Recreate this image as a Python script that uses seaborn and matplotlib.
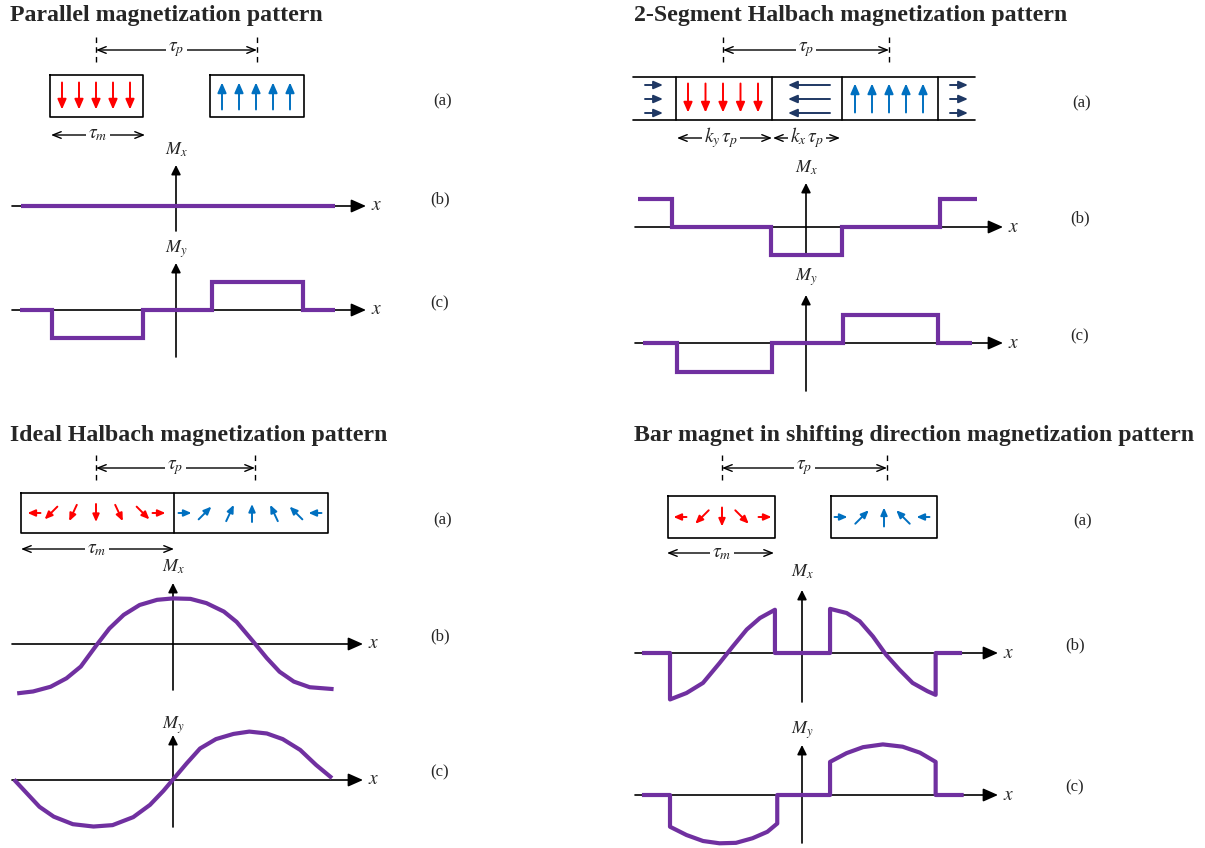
import numpy as np
import pandas as pd
import matplotlib
matplotlib.use("Agg")
import matplotlib.pyplot as plt
import seaborn as sns

# waveform values, x in units of tau_p, y in normalised magnetisation
par_mx_x = [-0.96, 0.99]
par_mx_y = [0, 0]
par_my_x = [-0.97, -0.77, -0.77, -0.205, -0.205, 0.224, 0.224, 0.79, 0.79, 0.99]
par_my_y = [0, 0, -1, -1, 0, 0, 1, 1, 0, 0]

hal2_mx_x = [-1.01, -0.807, -0.807, -0.21, -0.21, 0.217, 0.217, 0.807, 0.807, 1.03]
hal2_mx_y = [1, 1, 0, 0, -1, -1, 0, 0, 1, 1]
hal2_my_x = [-0.98, -0.777, -0.777, -0.205, -0.205, 0.223, 0.223, 0.795, 0.795, 1.0]
hal2_my_y = [0, 0, -1.02, -1.02, 0, 0, 1, 1, 0, 0]

ideal_mx_x = [-0.98, -0.88, -0.77, -0.67, -0.58, -0.48, -0.40, -0.31, -0.21, -0.10, 0.0,
              0.11, 0.21, 0.32, 0.40, 0.505, 0.59, 0.67, 0.76, 0.86, 1.01]
ideal_mx_y = [-1.05, -1.01, -0.91, -0.73, -0.48, -0.02, 0.33, 0.62, 0.83, 0.94, 0.97,
              0.96, 0.87, 0.69, 0.47, 0.05, -0.30, -0.59, -0.80, -0.92, -0.96]
ideal_my_x = [-1.0, -0.92, -0.84, -0.75, -0.63, -0.50, -0.38, -0.25, -0.145, -0.06, 0.0,
              0.085, 0.17, 0.27, 0.38, 0.48, 0.59, 0.69, 0.80, 0.90, 1.0]
ideal_my_y = [0.01, -0.28, -0.57, -0.78, -0.94, -0.99, -0.96, -0.79, -0.53, -0.23, 0.01,
              0.35, 0.67, 0.87, 0.98, 1.03, 0.99, 0.87, 0.64, 0.32, 0.04]

bar_mx_x = [-0.97, -0.80, -0.80, -0.70, -0.60, -0.50, -0.42, -0.335, -0.255, -0.164, -0.164,
            0.17, 0.17, 0.27, 0.35, 0.43, 0.51, 0.59, 0.67, 0.76, 0.81, 0.81, 0.97]
bar_mx_y = [0, 0, -1.01, -0.87, -0.65, -0.22, 0.14, 0.51, 0.76, 0.94, 0,
            0, 0.96, 0.87, 0.69, 0.36, -0.04, -0.36, -0.65, -0.83, -0.91, 0, 0]
bar_my_x = [-0.97, -0.80, -0.80, -0.70, -0.60, -0.50, -0.40, -0.30, -0.21, -0.15, -0.15,
            0.17, 0.17, 0.27, 0.37, 0.49, 0.61, 0.715, 0.81, 0.81, 0.98]
bar_my_y = [0, 0, -0.69, -0.87, -1.0, -1.05, -1.04, -0.94, -0.80, -0.62, 0,
            0, 0.72, 0.91, 1.04, 1.10, 1.05, 0.92, 0.72, 0, 0]

# magnet arrow directions (degrees, counter-clockwise from +x)
par_red_deg = [270, 270, 270, 270, 270]
par_blue_deg = [90, 90, 90, 90, 90]
hal2_edge_deg = [0, 0, 0]
hal2_mid_deg = [180, 180, 180]
ideal_red_deg = [180, 225, 245, 270, 295, 315, 0]
ideal_blue_deg = [0, 45, 65, 90, 115, 135, 180]
bar_red_deg = [180, 225, 270, 315, 0]
bar_blue_deg = [0, 45, 90, 135, 180]

titles = ["Parallel magnetization pattern", "2-Segment Halbach magnetization pattern",
          "Ideal Halbach magnetization pattern", "Bar magnet in shifting direction magnetization pattern"]
sub_labels = ["(a)", "(b)", "(c)"]

PURPLE = "#7030A0"
RED = "#FF0000"
BLUE = "#0070C0"
NAVY = "#1F3864"
W, H = 1205, 848

sns.set_theme(style="white")
plt.rcParams["font.family"] = ["Liberation Serif", "DejaVu Serif"]
plt.rcParams["mathtext.fontset"] = "stix"

fig = plt.figure(figsize=(W / 100, H / 100), dpi=100)
ax0 = fig.add_axes([0, 0, 1, 1])
ax0.set_xlim(0, W)
ax0.set_ylim(H, 0)
ax0.set_axis_off()


def mag_arrow(cx, cy, deg, length, color, head=1.0):
    dx = np.cos(np.radians(deg)) * length / 2
    dy = -np.sin(np.radians(deg)) * length / 2
    style = "-|>,head_length=%.3f,head_width=%.3f" % (0.3 * head, 0.13 * head)
    ax0.annotate("", xy=(cx + dx, cy + dy), xytext=(cx - dx, cy - dy),
                 arrowprops=dict(arrowstyle=style, lw=1.4, color=color,
                                 shrinkA=0, shrinkB=0, mutation_scale=20))


def arrow_len(deg, long, short):
    return short if deg % 180 == 0 else long


def dim_arrow(x0, x1, y, label, lx=None, fs=14):
    ax0.annotate("", xy=(x1, y), xytext=(x0, y),
                 arrowprops=dict(arrowstyle="<->,head_length=0.5,head_width=0.2", lw=1.0,
                                 color="black", shrinkA=0, shrinkB=0, mutation_scale=12))
    if lx is None:
        lx = (x0 + x1) / 2
    ax0.text(lx, y, label, ha="center", va="center", fontsize=fs, zorder=5,
             bbox=dict(facecolor="white", edgecolor="none", pad=1.5))


def pole_pitch(x0, x1, y0, y1, ya):
    for xx in (x0, x1):
        ax0.plot([xx, xx], [y0, y1], color="black", lw=1.0, ls=(0, (4, 3)))
    dim_arrow(x0, x1, ya, r"$\tau_p$")


def box(x0, y0, x1, y1):
    ax0.plot([x0, x1, x1, x0, x0], [y0, y0, y1, y1, y0], color="black", lw=1.2)


def wave(ox, oy, sx, sy, xs, ys, hx, vy, lab, laby, join="miter"):
    # coordinate arrows
    ax0.annotate("", xy=(hx[1], oy), xytext=(hx[0], oy),
                 arrowprops=dict(arrowstyle="-|>,head_length=0.45,head_width=0.2", lw=1.2,
                                 color="black", shrinkA=0, shrinkB=0, mutation_scale=20))
    ax0.annotate("", xy=(ox, vy[1]), xytext=(ox, vy[0]),
                 arrowprops=dict(arrowstyle="-|>,head_length=0.28,head_width=0.14", lw=1.2,
                                 color="black", shrinkA=0, shrinkB=0, mutation_scale=20))
    ax0.text(hx[1] + 11, oy, "$x$", ha="center", va="center", fontsize=14)
    ax0.text(ox, laby, lab, ha="center", va="center", fontsize=13)
    axw = fig.add_axes([0, 0, 1, 1])
    df = pd.DataFrame({"x": xs, "y": ys})
    sns.lineplot(data=df, x="x", y="y", ax=axw, sort=False, estimator=None, color=PURPLE,
                 lw=3, solid_joinstyle=join, solid_capstyle="butt")
    axw.set_xlim(-ox / sx, (W - ox) / sx)
    axw.set_ylim((oy - H) / sy, oy / sy)
    axw.set_axis_off()


# titles
for (tx, ty), t in zip([(10, 15), (634, 15), (10, 435), (634, 435)], titles):
    ax0.text(tx, ty, t, ha="left", va="center", fontsize=17.2, fontweight="bold")

# panel labels (a), (b), (c)
label_pos = [[(443, 101), (440, 199), (440, 303)],
             [(1082, 103), (1080, 218), (1080, 336)],
             [(443, 520), (440, 636), (440, 772)],
             [(1083, 521), (1075, 645), (1075, 787)]]
for panel in label_pos:
    for (lx, ly), s in zip(panel, sub_labels):
        ax0.text(lx, ly, s, ha="center", va="center", fontsize=12)

# ---- Parallel
pole_pitch(96, 257, 37, 63, 50)
box(50, 75, 143, 117)
box(210, 75, 304, 117)
for i, d in enumerate(par_red_deg):
    mag_arrow(62 + 17 * i, 96, d, 27, RED)
for i, d in enumerate(par_blue_deg):
    mag_arrow(222 + 17 * i, 96, d, 27, BLUE)
dim_arrow(51, 145, 135, r"$\tau_m$")
wave(176, 206, 161, 28, par_mx_x, par_mx_y, (12, 366), (231, 165), "$M_x$", 150)
wave(176, 310, 161, 28, par_my_x, par_my_y, (12, 366), (357, 263), "$M_y$", 249)

# ---- 2-segment Halbach
pole_pitch(723, 889, 37, 63, 50)
for yy in (77, 120):
    ax0.plot([633, 975], [yy, yy], color="black", lw=1.2)
for xx in (676, 772, 842, 938):
    ax0.plot([xx, xx], [77, 120], color="black", lw=1.2)
for i in range(5):
    mag_arrow(688 + 17.5 * i, 98, 270, 29, RED)
    mag_arrow(855 + 17 * i, 98, 90, 29, BLUE)
for j, yy in enumerate((85, 99, 113)):
    mag_arrow(654, yy, hal2_edge_deg[j], 18, NAVY, head=0.9)
    mag_arrow(959, yy, hal2_edge_deg[j], 18, NAVY, head=0.9)
    mag_arrow(809, yy, hal2_mid_deg[j], 42, NAVY, head=0.9)
dim_arrow(677, 772, 138, r"$k_y\,\tau_p$", lx=721)
dim_arrow(773, 840, 138, r"$k_x\,\tau_p$", lx=807)
wave(806, 227, 166, 28, hal2_mx_x, hal2_mx_y, (635, 1003), (253, 183), "$M_x$", 168)
wave(806, 343, 166, 28, hal2_my_x, hal2_my_y, (635, 1003), (391, 295), "$M_y$", 277)

# ---- Ideal Halbach
pole_pitch(96, 255, 455, 480, 468)
box(21, 493, 328, 533)
ax0.plot([174, 174], [493, 533], color="black", lw=1.2)
for cx, d in zip([34, 51, 73, 96, 119, 143, 159], ideal_red_deg):
    mag_arrow(cx, 513, d, arrow_len(d, 18, 13), RED, head=0.75)
for cx, d in zip([185, 205, 230, 252, 274, 296, 315], ideal_blue_deg):
    mag_arrow(cx, 513, d, arrow_len(d, 18, 13), BLUE, head=0.75)
dim_arrow(21, 174, 549, r"$\tau_m$", lx=97)
wave(173, 644, 159, 47, ideal_mx_x, ideal_mx_y, (12, 363), (690, 583), "$M_x$", 567, join="round")
wave(173, 780, 159, 47, ideal_my_x, ideal_my_y, (12, 363), (827, 735), "$M_y$", 725, join="round")

# ---- Bar magnet shifting direction
pole_pitch(722, 887, 455, 482, 468)
box(668, 496, 775, 538)
box(831, 496, 937, 538)
for cx, d in zip([680, 702, 722, 742, 765], bar_red_deg):
    mag_arrow(cx, 517, d, arrow_len(d, 19, 13), RED, head=0.75)
for cx, d in zip([841, 862, 884, 903, 923], bar_blue_deg):
    mag_arrow(cx, 517, d, arrow_len(d, 19, 13), BLUE, head=0.75)
dim_arrow(667, 774, 553, r"$\tau_m$", lx=722)
wave(802, 653, 165, 46, bar_mx_x, bar_mx_y, (635, 998), (702, 590), "$M_x$", 572, join="round")
wave(802, 795, 165, 46, bar_my_x, bar_my_y, (635, 998), (843, 745), "$M_y$", 730, join="round")

fig.savefig("out.png", dpi=100)
